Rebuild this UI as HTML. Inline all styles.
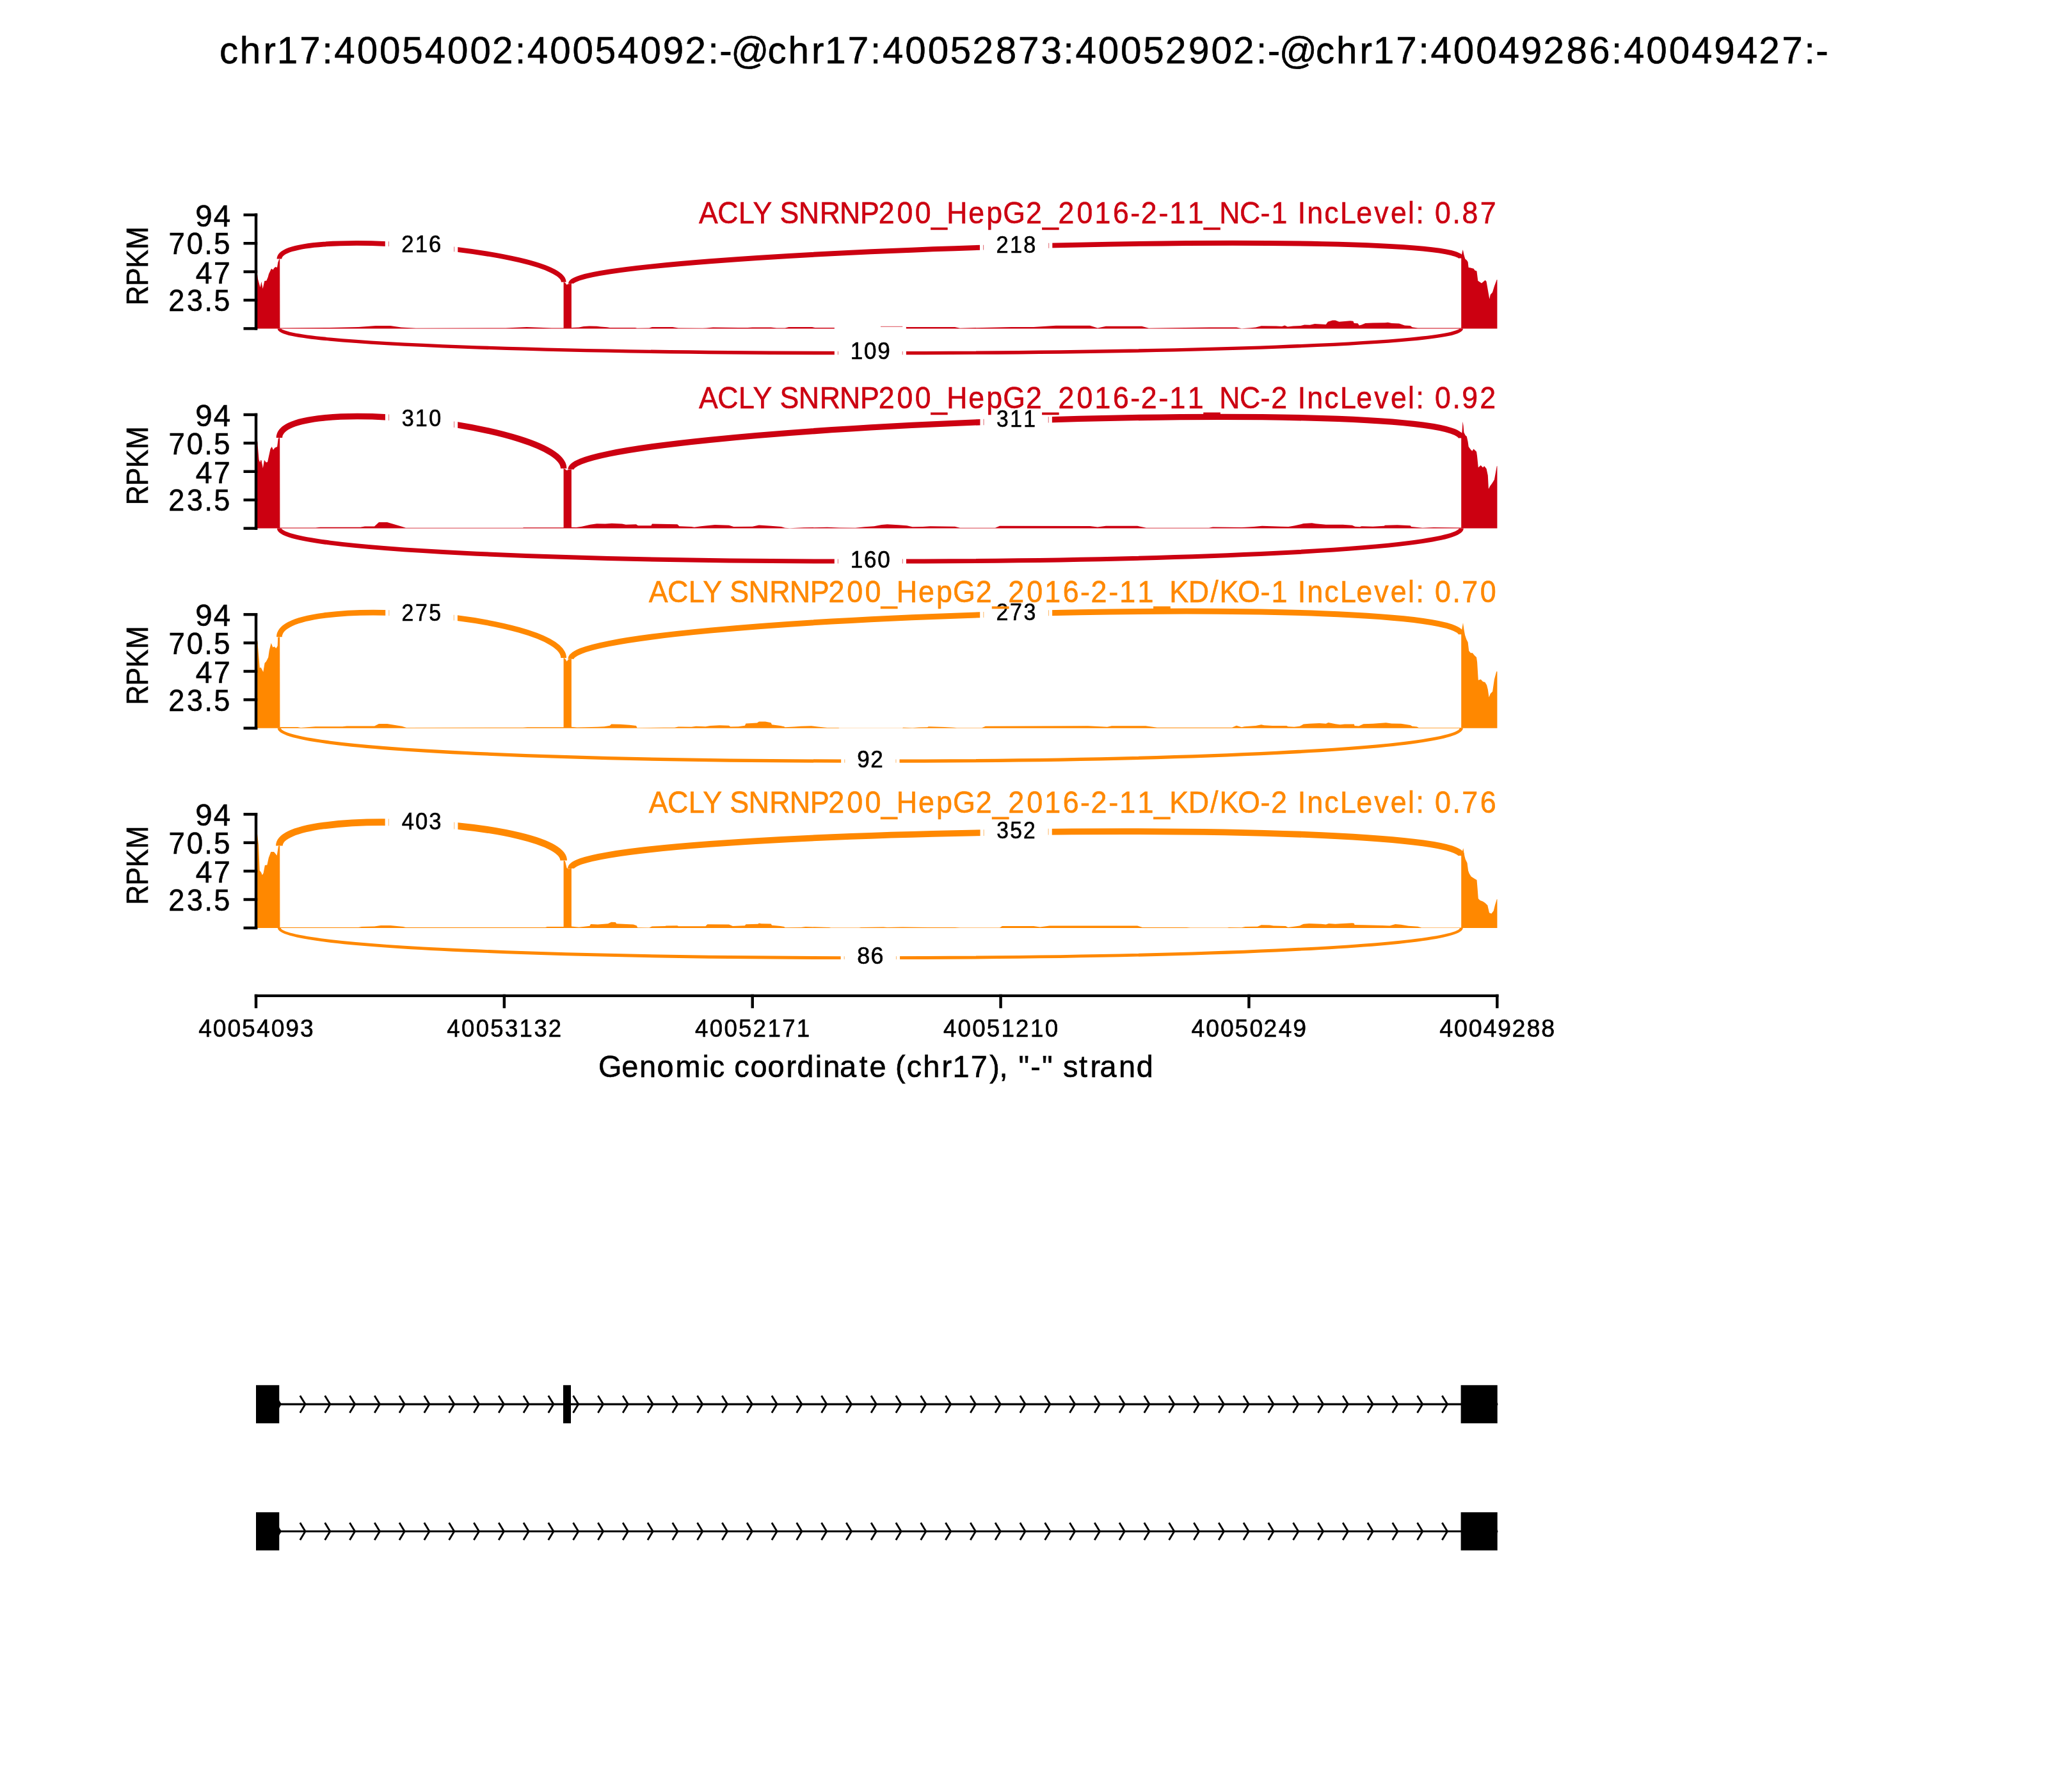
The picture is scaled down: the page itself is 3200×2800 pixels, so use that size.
<!DOCTYPE html>
<html><head><meta charset="utf-8"><style>
html,body{margin:0;padding:0;background:#fff;}
svg{display:block;will-change:transform;font-family:"Liberation Sans",sans-serif;}
</style></head><body>
<svg width="3200" height="2800" viewBox="0 0 3200 2800">
<rect width="3200" height="2800" fill="#fff"/>
<text transform="scale(0.97096,1)" x="353.19 386.08 423.74 445.58 482.18 518.52 537.97 574.38 610.78 646.96 683.58 719.99 756.39 792.04 829.02 848.47 884.88 921.29 957.47 994.09 1030.50 1066.72 1102.55 1139.53 1157.82 1176.40 1235.40 1268.29 1305.95 1327.79 1364.39 1400.72 1420.17 1456.58 1492.99 1529.17 1565.04 1602.20 1638.49 1675.08 1711.23 1730.68 1767.09 1803.49 1839.68 1875.55 1912.52 1949.11 1984.76 2021.73 2040.03 2058.60 2117.60 2150.49 2188.15 2210.00 2246.59 2282.93 2302.38 2338.79 2375.19 2411.59 2447.82 2483.65 2520.81 2557.22 2593.44 2612.89 2649.30 2685.70 2722.10 2758.33 2794.91 2830.56 2867.60 2903.94 2922.23" y="98.60" font-size="60.04" fill="#000" stroke="#000" stroke-width="0.6">chr17:40054002:40054092:-@chr17:40052873:40052902:-@chr17:40049286:40049427:-</text>
<g font-family="Liberation Sans, sans-serif">
<polygon points="400.00,513.40 400.00,424.00 401.50,424.00 403.00,436.00 406.60,449.00 408.40,440.00 410.60,451.00 413.30,439.00 416.40,438.60 418.70,433.00 420.00,427.90 424.00,419.80 426.70,421.60 428.50,418.50 430.70,417.00 433.00,418.00 434.30,410.00 436.00,405.50 437.20,404.60 437.40,512.40 515.00,511.90 560.00,510.90 587.00,508.90 610.00,508.90 627.00,511.40 650.00,512.70 790.00,512.40 823.00,511.10 862.00,512.40 880.60,512.40 880.60,440.70 883.00,441.70 885.60,445.00 888.00,443.60 892.90,443.10 892.90,512.10 904.60,511.40 912.00,509.90 920.80,509.40 932.50,509.70 938.30,510.50 948.60,511.20 953.00,512.10 992.50,512.10 995.50,512.70 1014.50,512.40 1018.90,510.90 1051.00,510.90 1059.90,512.40 1098.00,512.70 1103.90,512.40 1114.10,511.60 1153.70,512.10 1168.30,512.10 1175.60,511.40 1190.00,511.60 1204.60,511.60 1213.40,512.40 1226.60,512.40 1232.50,510.90 1269.10,510.90 1273.50,512.10 1302.80,512.10 1375.00,511.90 1380.00,510.40 1408.00,510.40 1412.00,509.90 1417.00,510.90 1453.70,510.90 1490.00,510.90 1492.00,510.90 1500.00,512.70 1580.00,510.90 1615.00,510.90 1650.00,508.80 1703.00,508.80 1715.00,512.40 1728.00,509.70 1784.00,509.70 1795.00,512.70 1890.00,511.60 1932.00,511.60 1940.00,513.20 1954.60,512.20 1962.00,511.50 1970.80,509.30 1994.20,509.60 2003.00,510.00 2007.40,508.60 2011.80,510.50 2020.60,509.60 2032.30,509.00 2038.10,507.50 2046.90,507.80 2054.30,505.90 2071.80,507.10 2074.80,502.70 2082.10,500.50 2086.50,500.50 2092.30,502.70 2098.20,502.30 2109.90,501.20 2114.30,501.70 2115.80,504.90 2121.60,505.20 2123.80,508.60 2127.50,507.50 2133.40,504.90 2145.10,504.50 2164.10,504.20 2168.50,503.70 2174.40,504.90 2186.10,505.60 2194.90,508.60 2203.70,509.00 2206.60,511.20 2215.40,512.50 2283.20,512.50 2283.20,403.60 2284.60,394.20 2285.80,389.90 2287.40,398.00 2289.30,404.60 2291.70,406.50 2293.60,409.30 2294.60,417.90 2296.90,418.30 2302.60,419.80 2304.50,422.60 2307.40,423.60 2309.30,438.70 2315.00,442.50 2320.60,437.80 2322.50,439.70 2327.30,467.20 2328.70,460.60 2332.00,456.80 2334.90,447.30 2338.70,436.90 2339.40,436.90 2339.40,513.40" fill="#CC0011"/>
<path d="M436.40,404.60 C436.40,353.60 880.70,389.70 880.70,440.70" fill="none" stroke="#CC0011" stroke-width="7.7" stroke-linecap="butt"/>
<path d="M892.00,443.10 C892.00,392.10 2283.30,352.60 2283.30,403.60" fill="none" stroke="#CC0011" stroke-width="7.9" stroke-linecap="butt"/>
<path d="M436.40,513.40 C436.40,564.40 2283.30,564.40 2283.30,513.40" fill="none" stroke="#CC0011" stroke-width="5.4" stroke-linecap="butt"/>
<line x1="400.0" y1="333.60" x2="400.0" y2="515.60" stroke="#000" stroke-width="4.44"/>
<line x1="380.5" y1="335.80" x2="402.2" y2="335.80" stroke="#000" stroke-width="4.44"/>
<text transform="scale(0.99074,1)" x="308.15 336.83" y="353.70" font-size="48.03" fill="#000" stroke="#000" stroke-width="0.6">94</text>
<line x1="380.5" y1="380.20" x2="402.2" y2="380.20" stroke="#000" stroke-width="4.44"/>
<text transform="scale(0.95323,1)" x="276.38 306.13 335.05 350.44" y="397.40" font-size="48.03" fill="#000" stroke="#000" stroke-width="0.6">70.5</text>
<line x1="380.5" y1="424.60" x2="402.2" y2="424.60" stroke="#000" stroke-width="4.44"/>
<text transform="scale(0.96532,1)" x="316.76 345.97" y="442.60" font-size="48.03" fill="#000" stroke="#000" stroke-width="0.6">47</text>
<line x1="380.5" y1="469.00" x2="402.2" y2="469.00" stroke="#000" stroke-width="4.44"/>
<text transform="scale(0.93671,1)" x="280.96 311.83 341.08 356.85" y="486.30" font-size="48.03" fill="#000" stroke="#000" stroke-width="0.6">23.5</text>
<line x1="380.5" y1="513.40" x2="402.2" y2="513.40" stroke="#000" stroke-width="4.44"/>
<text transform="translate(230.80,415.30) rotate(-90) scale(0.89226,1)" x="-69.31 -35.65 -3.92 28.66" y="0.00" font-size="48.03" fill="#000" stroke="#000" stroke-width="0.6">RPKM</text>
<rect x="601.81" y="337.80" width="113.48" height="93.20" fill="#fff"/>
<line x1="607.41" y1="377.31" x2="607.41" y2="385.02" stroke="#CC0011" stroke-width="1.1" stroke-opacity="0.55"/>
<line x1="709.69" y1="385.59" x2="709.69" y2="393.34" stroke="#CC0011" stroke-width="1.1" stroke-opacity="0.55"/>
<text transform="scale(0.96111,1)" x="652.65 674.99 697.24" y="394.20" font-size="36.03" fill="#000" stroke="#000" stroke-width="0.6">216</text>
<rect x="1531.00" y="338.50" width="113.30" height="93.20" fill="#fff"/>
<line x1="1536.60" y1="382.69" x2="1536.60" y2="390.59" stroke="#CC0011" stroke-width="1.1" stroke-opacity="0.55"/>
<line x1="1638.70" y1="379.79" x2="1638.70" y2="387.69" stroke="#CC0011" stroke-width="1.1" stroke-opacity="0.55"/>
<text transform="scale(0.95324,1)" x="1632.79 1655.33 1677.75" y="394.90" font-size="36.03" fill="#000" stroke="#000" stroke-width="0.6">218</text>
<rect x="1303.84" y="505.05" width="112.02" height="93.20" fill="#fff"/>
<line x1="1309.44" y1="548.90" x2="1309.44" y2="554.30" stroke="#CC0011" stroke-width="1.1" stroke-opacity="0.55"/>
<line x1="1410.26" y1="548.90" x2="1410.26" y2="554.30" stroke="#CC0011" stroke-width="1.1" stroke-opacity="0.55"/>
<line x1="1376" y1="510.4" x2="1410.26" y2="510.4" stroke="#CC0011" stroke-width="1.1" stroke-opacity="0.55"/>
<text transform="scale(0.97237,1)" x="1366.47 1388.46 1410.16" y="561.45" font-size="36.03" fill="#000" stroke="#000" stroke-width="0.6">109</text>
<text transform="scale(0.92925,1)" x="1175.10 1206.59 1241.90 1266.12 1266.12 1311.37 1342.84 1378.16 1411.85 1446.33 1477.16 1508.22 1538.65 1565.92 1591.77 1628.56 1658.68 1686.71 1725.17 1753.08 1779.51 1810.57 1840.78 1871.44 1900.65 1918.49 1948.34 1966.58 1997.01 2024.52 2050.27 2084.61 2119.54 2137.79 2137.79 2182.18 2197.81 2226.81 2253.53 2280.61 2310.73 2338.34 2367.62 2381.00 2381.00 2412.77 2442.26 2458.40 2488.74" y="348.80" font-size="48.03" fill="#CC0011" stroke="#CC0011" stroke-width="0.6">ACLY SNRNP200_HepG2_2016-2-11_NC-1 IncLevel: 0.87</text>
<polygon points="400.00,825.57 400.00,686.90 401.90,686.90 404.60,718.20 406.30,722.60 407.40,718.70 408.50,719.30 410.80,731.60 413.00,718.70 415.80,722.60 418.00,722.00 422.50,701.40 424.70,698.10 427.00,703.10 429.20,699.80 433.10,698.10 434.80,684.70 437.20,684.10 437.40,824.57 493.00,824.57 500.00,823.77 563.00,823.77 570.00,822.57 585.00,822.57 592.00,816.07 605.00,816.07 627.00,822.57 634.00,824.77 817.00,824.77 818.00,824.17 880.60,824.17 880.60,732.00 883.00,733.00 885.60,735.00 888.00,734.10 892.90,733.60 892.90,823.77 900.30,824.07 909.00,822.67 922.20,819.67 932.50,818.27 945.70,818.57 955.90,817.77 972.00,818.57 977.90,819.67 994.00,819.37 996.90,821.17 1017.40,821.17 1018.90,818.57 1058.40,819.37 1061.40,822.37 1080.40,822.97 1084.80,823.77 1095.10,822.37 1117.00,819.97 1139.00,820.87 1146.30,822.97 1175.60,822.67 1185.90,820.47 1190.00,820.87 1204.60,821.87 1220.80,822.97 1226.60,824.87 1233.90,825.27 1255.90,824.37 1292.50,823.77 1311.60,824.57 1336.50,824.87 1351.10,823.37 1365.80,822.37 1377.50,819.97 1386.30,819.17 1403.90,820.17 1417.00,821.17 1425.80,823.37 1441.90,822.97 1453.70,822.37 1490.00,822.67 1492.00,822.77 1500.00,824.77 1555.00,824.77 1562.00,821.67 1703.00,822.07 1715.00,823.57 1728.00,821.67 1777.00,821.67 1791.00,824.77 1889.00,824.77 1895.00,823.57 1940.00,824.07 1945.90,823.77 1959.00,823.07 1972.20,821.87 1986.90,822.17 2001.50,822.67 2013.20,822.97 2022.00,821.57 2032.30,819.37 2036.70,817.97 2049.90,817.27 2055.70,818.27 2071.80,819.67 2098.20,819.67 2112.80,820.77 2117.20,822.67 2124.60,823.37 2127.50,822.37 2145.10,822.67 2162.60,821.87 2164.10,820.77 2183.20,820.17 2203.70,821.17 2205.10,822.97 2222.70,824.87 2240.00,824.07 2283.20,824.57 2283.20,684.60 2284.60,673.50 2285.50,658.40 2286.50,665.00 2287.40,675.70 2289.70,680.20 2291.80,682.00 2293.60,690.20 2294.70,698.00 2298.00,702.50 2300.30,704.70 2302.50,701.40 2307.00,705.80 2308.00,712.50 2309.80,730.40 2313.70,727.00 2317.00,730.40 2319.20,728.20 2322.60,732.60 2324.80,742.70 2325.90,763.90 2328.20,759.40 2331.50,755.00 2334.90,749.40 2338.80,728.20 2339.40,728.20 2339.40,825.57" fill="#CC0011"/>
<path d="M436.40,684.10 C436.40,615.40 880.70,663.30 880.70,732.00" fill="none" stroke="#CC0011" stroke-width="9.5" stroke-linecap="butt"/>
<path d="M892.00,733.60 C892.00,664.90 2283.30,615.90 2283.30,684.60" fill="none" stroke="#CC0011" stroke-width="9.3" stroke-linecap="butt"/>
<path d="M436.40,825.57 C436.40,894.27 2283.30,894.27 2283.30,825.57" fill="none" stroke="#CC0011" stroke-width="7.0" stroke-linecap="butt"/>
<line x1="400.0" y1="645.77" x2="400.0" y2="827.77" stroke="#000" stroke-width="4.44"/>
<line x1="380.5" y1="647.97" x2="402.2" y2="647.97" stroke="#000" stroke-width="4.44"/>
<text transform="scale(0.99074,1)" x="308.15 336.83" y="665.87" font-size="48.03" fill="#000" stroke="#000" stroke-width="0.6">94</text>
<line x1="380.5" y1="692.37" x2="402.2" y2="692.37" stroke="#000" stroke-width="4.44"/>
<text transform="scale(0.95323,1)" x="276.38 306.13 335.05 350.44" y="709.57" font-size="48.03" fill="#000" stroke="#000" stroke-width="0.6">70.5</text>
<line x1="380.5" y1="736.77" x2="402.2" y2="736.77" stroke="#000" stroke-width="4.44"/>
<text transform="scale(0.96532,1)" x="316.76 345.97" y="754.77" font-size="48.03" fill="#000" stroke="#000" stroke-width="0.6">47</text>
<line x1="380.5" y1="781.17" x2="402.2" y2="781.17" stroke="#000" stroke-width="4.44"/>
<text transform="scale(0.93671,1)" x="280.96 311.83 341.08 356.85" y="798.47" font-size="48.03" fill="#000" stroke="#000" stroke-width="0.6">23.5</text>
<line x1="380.5" y1="825.57" x2="402.2" y2="825.57" stroke="#000" stroke-width="4.44"/>
<text transform="translate(230.80,727.47) rotate(-90) scale(0.89226,1)" x="-69.31 -35.65 -3.92 28.66" y="0.00" font-size="48.03" fill="#000" stroke="#000" stroke-width="0.6">RPKM</text>
<rect x="601.92" y="609.92" width="113.27" height="93.20" fill="#fff"/>
<line x1="607.52" y1="647.49" x2="607.52" y2="657.01" stroke="#CC0011" stroke-width="1.1" stroke-opacity="0.55"/>
<line x1="709.58" y1="658.45" x2="709.58" y2="668.07" stroke="#CC0011" stroke-width="1.1" stroke-opacity="0.55"/>
<text transform="scale(0.94844,1)" x="662.01 684.15 706.68" y="666.32" font-size="36.03" fill="#000" stroke="#000" stroke-width="0.6">310</text>
<rect x="1531.45" y="610.98" width="112.41" height="93.20" fill="#fff"/>
<line x1="1537.05" y1="654.82" x2="1537.05" y2="664.13" stroke="#CC0011" stroke-width="1.1" stroke-opacity="0.55"/>
<line x1="1638.25" y1="651.26" x2="1638.25" y2="660.57" stroke="#CC0011" stroke-width="1.1" stroke-opacity="0.55"/>
<text transform="scale(0.93337,1)" x="1668.29 1690.80 1713.52" y="667.38" font-size="36.03" fill="#000" stroke="#000" stroke-width="0.6">311</text>
<rect x="1303.78" y="830.50" width="112.15" height="93.20" fill="#fff"/>
<line x1="1309.38" y1="873.53" x2="1309.38" y2="880.53" stroke="#CC0011" stroke-width="1.1" stroke-opacity="0.55"/>
<line x1="1410.32" y1="873.53" x2="1410.32" y2="880.53" stroke="#CC0011" stroke-width="1.1" stroke-opacity="0.55"/>
<text transform="scale(0.97305,1)" x="1365.51 1387.49 1409.28" y="886.89" font-size="36.03" fill="#000" stroke="#000" stroke-width="0.6">160</text>
<text transform="scale(0.92959,1)" x="1174.66 1206.14 1241.44 1265.65 1265.65 1310.88 1342.34 1377.65 1411.33 1445.79 1476.61 1507.66 1538.08 1565.34 1591.18 1627.95 1658.07 1686.08 1724.53 1752.43 1778.85 1809.90 1840.10 1870.75 1899.95 1917.78 1947.62 1965.86 1996.27 2023.77 2049.51 2083.84 2118.76 2136.59 2136.59 2181.38 2197.00 2225.98 2252.69 2279.77 2309.88 2337.48 2366.75 2380.12 2380.12 2411.88 2441.36 2457.34 2487.28" y="637.70" font-size="48.03" fill="#CC0011" stroke="#CC0011" stroke-width="0.6">ACLY SNRNP200_HepG2_2016-2-11_NC-2 IncLevel: 0.92</text>
<polygon points="400.00,1137.74 400.00,1000.80 402.20,1000.80 405.80,1043.80 407.40,1042.70 409.10,1045.50 411.30,1049.90 413.60,1036.00 415.80,1033.80 417.50,1030.40 419.20,1027.00 420.80,1015.90 423.60,1004.70 426.40,1011.40 428.60,1010.30 431.40,1013.10 433.70,1009.20 434.20,995.80 437.20,995.20 437.40,1135.94 465.00,1135.94 470.00,1136.94 493.00,1135.24 535.00,1135.24 542.00,1134.54 585.00,1134.54 592.00,1131.04 605.00,1131.04 628.00,1134.74 635.00,1136.94 817.00,1136.74 824.00,1136.34 880.60,1136.34 880.60,1028.10 883.00,1029.10 885.60,1033.60 888.00,1030.20 892.90,1029.70 892.90,1135.84 901.70,1136.54 914.90,1136.14 933.90,1135.84 944.20,1135.14 953.00,1133.64 955.20,1131.44 969.10,1131.74 983.70,1132.64 994.00,1134.04 995.50,1137.34 1036.50,1136.84 1054.00,1136.84 1059.90,1135.44 1080.40,1135.84 1087.70,1134.84 1102.40,1135.14 1109.70,1134.04 1124.40,1133.34 1139.00,1133.64 1141.20,1135.44 1153.70,1135.14 1163.90,1133.64 1165.40,1130.44 1183.00,1129.54 1185.90,1127.44 1195.90,1127.44 1204.60,1129.24 1206.10,1132.34 1219.30,1134.04 1225.20,1135.14 1226.60,1136.24 1241.30,1135.54 1251.50,1134.84 1267.60,1134.34 1277.90,1135.54 1292.50,1137.04 1310.10,1137.04 1311.60,1137.54 1410.00,1137.54 1411.20,1136.74 1425.80,1137.34 1436.10,1136.54 1449.30,1136.24 1450.70,1135.14 1475.60,1135.94 1490.00,1136.74 1495.00,1137.24 1534.00,1137.24 1540.00,1134.74 1700.00,1134.24 1730.00,1135.74 1737.00,1134.24 1790.00,1134.24 1808.00,1136.74 1925.00,1136.74 1932.00,1133.74 1940.00,1136.24 1944.40,1135.24 1962.00,1134.04 1970.80,1132.14 1975.20,1133.34 1988.30,1134.04 2010.30,1134.04 2012.50,1135.14 2022.00,1135.84 2030.80,1134.84 2036.70,1131.54 2045.50,1130.74 2061.60,1129.94 2071.80,1130.84 2075.50,1128.94 2086.50,1131.14 2093.80,1132.34 2101.10,1131.54 2115.80,1131.54 2116.50,1134.04 2123.10,1134.54 2130.40,1131.14 2145.10,1130.84 2165.60,1129.24 2174.40,1130.44 2189.00,1130.84 2203.70,1133.04 2206.60,1134.84 2213.90,1135.54 2216.80,1137.04 2283.20,1137.04 2283.20,991.30 2284.60,981.30 2286.00,972.90 2287.40,983.50 2289.10,992.40 2291.30,999.10 2293.60,1003.60 2295.20,1017.00 2298.00,1020.30 2300.80,1020.30 2303.60,1023.70 2307.00,1027.00 2308.10,1034.80 2309.80,1062.70 2313.70,1061.60 2317.00,1065.00 2320.40,1066.10 2323.10,1070.50 2324.80,1077.20 2326.50,1089.50 2328.70,1083.90 2332.10,1080.60 2334.90,1061.60 2338.20,1049.30 2339.40,1049.30 2339.40,1137.74" fill="#FF8800"/>
<path d="M436.40,995.20 C436.40,926.60 880.70,959.50 880.70,1028.10" fill="none" stroke="#FF8800" stroke-width="8.7" stroke-linecap="butt"/>
<path d="M892.00,1029.70 C892.00,961.10 2283.30,922.70 2283.30,991.30" fill="none" stroke="#FF8800" stroke-width="9.0" stroke-linecap="butt"/>
<path d="M436.40,1137.74 C436.40,1206.34 2283.30,1206.34 2283.30,1137.74" fill="none" stroke="#FF8800" stroke-width="5.25" stroke-linecap="butt"/>
<line x1="400.0" y1="957.94" x2="400.0" y2="1139.94" stroke="#000" stroke-width="4.44"/>
<line x1="380.5" y1="960.14" x2="402.2" y2="960.14" stroke="#000" stroke-width="4.44"/>
<text transform="scale(0.99074,1)" x="308.15 336.83" y="978.04" font-size="48.03" fill="#000" stroke="#000" stroke-width="0.6">94</text>
<line x1="380.5" y1="1004.54" x2="402.2" y2="1004.54" stroke="#000" stroke-width="4.44"/>
<text transform="scale(0.95323,1)" x="276.38 306.13 335.05 350.44" y="1021.74" font-size="48.03" fill="#000" stroke="#000" stroke-width="0.6">70.5</text>
<line x1="380.5" y1="1048.94" x2="402.2" y2="1048.94" stroke="#000" stroke-width="4.44"/>
<text transform="scale(0.96532,1)" x="316.76 345.97" y="1066.94" font-size="48.03" fill="#000" stroke="#000" stroke-width="0.6">47</text>
<line x1="380.5" y1="1093.34" x2="402.2" y2="1093.34" stroke="#000" stroke-width="4.44"/>
<text transform="scale(0.93671,1)" x="280.96 311.83 341.08 356.85" y="1110.64" font-size="48.03" fill="#000" stroke="#000" stroke-width="0.6">23.5</text>
<line x1="380.5" y1="1137.74" x2="402.2" y2="1137.74" stroke="#000" stroke-width="4.44"/>
<text transform="translate(230.80,1039.64) rotate(-90) scale(0.89226,1)" x="-69.31 -35.65 -3.92 28.66" y="0.00" font-size="48.03" fill="#000" stroke="#000" stroke-width="0.6">RPKM</text>
<rect x="602.22" y="913.60" width="112.67" height="93.20" fill="#fff"/>
<line x1="607.82" y1="953.30" x2="607.82" y2="962.01" stroke="#FF8800" stroke-width="1.1" stroke-opacity="0.55"/>
<line x1="709.28" y1="960.79" x2="709.28" y2="969.55" stroke="#FF8800" stroke-width="1.1" stroke-opacity="0.55"/>
<text transform="scale(0.93798,1)" x="668.99 692.00 714.54" y="970.00" font-size="36.03" fill="#000" stroke="#000" stroke-width="0.6">275</text>
<rect x="1531.19" y="912.45" width="112.91" height="93.20" fill="#fff"/>
<line x1="1536.79" y1="956.08" x2="1536.79" y2="965.09" stroke="#FF8800" stroke-width="1.1" stroke-opacity="0.55"/>
<line x1="1638.51" y1="953.26" x2="1638.51" y2="962.26" stroke="#FF8800" stroke-width="1.1" stroke-opacity="0.55"/>
<text transform="scale(0.94353,1)" x="1649.70 1672.57 1695.17" y="968.85" font-size="36.03" fill="#000" stroke="#000" stroke-width="0.6">273</text>
<rect x="1314.16" y="1142.59" width="91.38" height="93.20" fill="#fff"/>
<line x1="1319.76" y1="1186.52" x2="1319.76" y2="1191.77" stroke="#FF8800" stroke-width="1.1" stroke-opacity="0.55"/>
<line x1="1399.94" y1="1186.52" x2="1399.94" y2="1191.77" stroke="#FF8800" stroke-width="1.1" stroke-opacity="0.55"/>
<text transform="scale(0.97400,1)" x="1375.12 1396.56" y="1198.99" font-size="36.03" fill="#000" stroke="#000" stroke-width="0.6">92</text>
<text transform="scale(0.93429,1)" x="1084.98 1116.29 1151.43 1175.51 1175.51 1220.52 1251.81 1286.94 1320.45 1354.74 1385.42 1416.31 1446.58 1473.71 1499.39 1536.00 1565.96 1593.82 1632.10 1659.85 1686.15 1717.04 1747.08 1777.58 1806.65 1824.37 1854.08 1872.20 1902.47 1929.82 1955.69 1987.25 2024.15 2039.54 2070.08 2108.05 2126.17 2126.17 2170.36 2185.87 2214.72 2241.28 2268.22 2298.19 2325.64 2354.81 2368.11 2368.11 2399.67 2429.03 2444.96 2475.32" y="941.40" font-size="48.03" fill="#FF8800" stroke="#FF8800" stroke-width="0.6">ACLY SNRNP200_HepG2_2016-2-11_KD/KO-1 IncLevel: 0.70</text>
<polygon points="400.00,1449.91 400.00,1299.20 401.60,1299.20 404.00,1320.30 405.70,1360.20 408.00,1363.00 409.80,1367.20 411.60,1364.30 413.90,1352.00 417.40,1351.40 419.80,1340.30 423.30,1330.90 428.00,1330.90 432.70,1336.80 435.00,1322.10 437.20,1321.50 437.40,1449.11 560.00,1449.11 565.00,1447.91 585.00,1447.41 595.00,1446.01 610.00,1446.01 630.00,1447.91 634.00,1449.11 852.00,1449.11 855.00,1448.11 880.60,1448.11 880.60,1344.60 883.00,1345.60 885.60,1356.30 888.00,1357.60 892.90,1357.10 892.90,1447.41 904.60,1448.71 913.40,1447.71 921.50,1446.71 923.00,1444.01 934.00,1444.51 950.00,1443.31 955.20,1440.81 961.80,1441.11 963.20,1443.31 989.60,1444.51 994.70,1446.21 996.20,1449.21 1014.50,1449.61 1018.90,1447.41 1039.40,1447.01 1040.90,1446.51 1058.40,1446.21 1059.90,1447.31 1102.40,1447.31 1105.30,1444.31 1139.00,1444.51 1144.90,1447.01 1163.90,1446.21 1165.40,1444.31 1184.40,1443.71 1185.90,1442.61 1190.00,1443.31 1204.60,1443.61 1206.10,1445.81 1219.30,1447.01 1225.20,1448.11 1226.60,1449.21 1251.50,1448.91 1258.80,1448.11 1295.50,1448.91 1298.40,1449.61 1342.30,1449.61 1345.30,1448.91 1380.40,1448.41 1386.30,1448.91 1409.70,1448.41 1450.70,1448.91 1490.00,1448.91 1492.00,1448.91 1500.00,1449.41 1562.00,1449.41 1566.00,1447.11 1615.00,1447.11 1625.00,1448.41 1640.00,1446.41 1777.00,1446.41 1785.00,1448.91 1854.00,1448.91 1860.00,1449.41 1918.00,1449.41 1920.00,1448.91 1940.00,1449.31 1945.90,1448.11 1964.90,1447.81 1970.80,1445.21 1983.90,1445.51 1989.80,1446.41 2008.80,1447.01 2012.50,1448.91 2022.00,1447.81 2030.80,1446.41 2036.70,1443.71 2045.50,1443.01 2064.50,1443.71 2071.80,1444.51 2076.20,1443.01 2086.50,1443.71 2093.80,1443.31 2112.80,1442.31 2115.80,1442.71 2116.50,1444.91 2130.40,1445.21 2159.70,1445.91 2171.40,1446.41 2180.20,1444.01 2189.00,1444.81 2200.70,1446.71 2215.40,1447.71 2221.20,1449.61 2283.20,1449.61 2283.20,1337.00 2284.60,1331.40 2286.30,1325.30 2288.00,1335.90 2289.70,1342.60 2292.50,1348.20 2294.10,1360.40 2295.80,1364.90 2298.60,1369.40 2303.60,1372.70 2307.50,1375.00 2308.60,1388.30 2309.80,1404.00 2312.50,1406.80 2317.00,1408.50 2320.40,1410.70 2324.30,1414.60 2327.00,1426.30 2330.40,1427.40 2333.80,1423.00 2336.00,1414.00 2338.80,1405.10 2339.40,1405.10 2339.40,1449.91" fill="#FF8800"/>
<path d="M436.40,1321.50 C436.40,1259.20 880.70,1282.30 880.70,1344.60" fill="none" stroke="#FF8800" stroke-width="10.7" stroke-linecap="butt"/>
<path d="M892.00,1357.10 C892.00,1294.80 2283.30,1274.70 2283.30,1337.00" fill="none" stroke="#FF8800" stroke-width="9.8" stroke-linecap="butt"/>
<path d="M436.40,1449.91 C436.40,1512.21 2283.30,1512.21 2283.30,1449.91" fill="none" stroke="#FF8800" stroke-width="4.9" stroke-linecap="butt"/>
<line x1="400.0" y1="1270.11" x2="400.0" y2="1452.11" stroke="#000" stroke-width="4.44"/>
<line x1="380.5" y1="1272.31" x2="402.2" y2="1272.31" stroke="#000" stroke-width="4.44"/>
<text transform="scale(0.99074,1)" x="308.15 336.83" y="1290.21" font-size="48.03" fill="#000" stroke="#000" stroke-width="0.6">94</text>
<line x1="380.5" y1="1316.71" x2="402.2" y2="1316.71" stroke="#000" stroke-width="4.44"/>
<text transform="scale(0.95323,1)" x="276.38 306.13 335.05 350.44" y="1333.91" font-size="48.03" fill="#000" stroke="#000" stroke-width="0.6">70.5</text>
<line x1="380.5" y1="1361.11" x2="402.2" y2="1361.11" stroke="#000" stroke-width="4.44"/>
<text transform="scale(0.96532,1)" x="316.76 345.97" y="1379.11" font-size="48.03" fill="#000" stroke="#000" stroke-width="0.6">47</text>
<line x1="380.5" y1="1405.51" x2="402.2" y2="1405.51" stroke="#000" stroke-width="4.44"/>
<text transform="scale(0.93671,1)" x="280.96 311.83 341.08 356.85" y="1422.81" font-size="48.03" fill="#000" stroke="#000" stroke-width="0.6">23.5</text>
<line x1="380.5" y1="1449.91" x2="402.2" y2="1449.91" stroke="#000" stroke-width="4.44"/>
<text transform="translate(230.80,1351.81) rotate(-90) scale(0.89226,1)" x="-69.31 -35.65 -3.92 28.66" y="0.00" font-size="48.03" fill="#000" stroke="#000" stroke-width="0.6">RPKM</text>
<rect x="601.69" y="1239.73" width="113.73" height="93.20" fill="#fff"/>
<line x1="607.29" y1="1279.43" x2="607.29" y2="1290.13" stroke="#FF8800" stroke-width="1.1" stroke-opacity="0.55"/>
<line x1="709.81" y1="1284.74" x2="709.81" y2="1295.49" stroke="#FF8800" stroke-width="1.1" stroke-opacity="0.55"/>
<text transform="scale(0.96280,1)" x="651.94 673.97 696.04" y="1296.12" font-size="36.03" fill="#000" stroke="#000" stroke-width="0.6">403</text>
<rect x="1531.58" y="1253.73" width="112.15" height="93.20" fill="#fff"/>
<line x1="1537.18" y1="1296.26" x2="1537.18" y2="1306.07" stroke="#FF8800" stroke-width="1.1" stroke-opacity="0.55"/>
<line x1="1638.12" y1="1294.80" x2="1638.12" y2="1304.60" stroke="#FF8800" stroke-width="1.1" stroke-opacity="0.55"/>
<text transform="scale(0.93233,1)" x="1670.15 1692.71 1715.13" y="1310.12" font-size="36.03" fill="#000" stroke="#000" stroke-width="0.6">352</text>
<rect x="1313.62" y="1450.03" width="92.45" height="93.20" fill="#fff"/>
<line x1="1319.22" y1="1494.14" x2="1319.22" y2="1499.04" stroke="#FF8800" stroke-width="1.1" stroke-opacity="0.55"/>
<line x1="1400.48" y1="1494.14" x2="1400.48" y2="1499.04" stroke="#FF8800" stroke-width="1.1" stroke-opacity="0.55"/>
<text transform="scale(0.99758,1)" x="1342.49 1363.75" y="1506.43" font-size="36.03" fill="#000" stroke="#000" stroke-width="0.6">86</text>
<text transform="scale(0.93513,1)" x="1083.99 1115.27 1150.38 1174.44 1174.44 1219.40 1250.67 1285.76 1319.24 1353.50 1384.16 1415.03 1445.26 1472.37 1498.03 1534.61 1564.54 1592.37 1630.61 1658.35 1684.62 1715.48 1745.49 1775.97 1805.02 1822.72 1852.41 1870.50 1900.74 1928.08 1953.92 1985.45 2022.32 2037.69 2068.20 2106.15 2123.84 2123.84 2168.40 2183.89 2212.71 2239.25 2266.17 2296.11 2323.54 2352.69 2365.97 2365.97 2397.50 2426.84 2442.75 2473.09" y="1269.60" font-size="48.03" fill="#FF8800" stroke="#FF8800" stroke-width="0.6">ACLY SNRNP200_HepG2_2016-2-11_KD/KO-2 IncLevel: 0.76</text>
<line x1="397.8" y1="1555.9" x2="2341.5" y2="1555.9" stroke="#000" stroke-width="4.44"/>
<line x1="400.00" y1="1553.7" x2="400.00" y2="1575.3" stroke="#000" stroke-width="4.44"/>
<text transform="scale(0.96771,1)" x="320.53 343.99 367.44 390.75 414.34 437.79 461.13 484.75" y="1620.40" font-size="38.55" fill="#000" stroke="#000" stroke-width="0.6">40054093</text>
<line x1="787.86" y1="1553.7" x2="787.86" y2="1575.3" stroke="#000" stroke-width="4.44"/>
<text transform="scale(0.94947,1)" x="735.40 759.31 783.21 806.97 831.06 854.73 878.87 902.23" y="1620.40" font-size="38.55" fill="#000" stroke="#000" stroke-width="0.6">40053132</text>
<line x1="1175.72" y1="1553.7" x2="1175.72" y2="1575.3" stroke="#000" stroke-width="4.44"/>
<text transform="scale(0.95122,1)" x="1141.78 1165.64 1189.50 1213.21 1236.72 1260.89 1284.86 1308.60" y="1620.40" font-size="38.55" fill="#000" stroke="#000" stroke-width="0.6">40052171</text>
<line x1="1563.58" y1="1553.7" x2="1563.58" y2="1575.3" stroke="#000" stroke-width="4.44"/>
<text transform="scale(0.95396,1)" x="1545.04 1568.84 1592.63 1616.27 1640.02 1663.50 1687.60 1711.58" y="1620.40" font-size="38.55" fill="#000" stroke="#000" stroke-width="0.6">40051210</text>
<line x1="1951.44" y1="1553.7" x2="1951.44" y2="1575.3" stroke="#000" stroke-width="4.44"/>
<text transform="scale(0.96827,1)" x="1922.62 1946.07 1969.50 1992.80 2016.38 2039.33 2063.25 2086.58" y="1620.40" font-size="38.55" fill="#000" stroke="#000" stroke-width="0.6">40050249</text>
<line x1="2339.30" y1="1553.7" x2="2339.30" y2="1575.3" stroke="#000" stroke-width="4.44"/>
<text transform="scale(0.97765,1)" x="2300.80 2324.02 2347.23 2370.44 2393.54 2416.39 2440.09 2463.30" y="1620.40" font-size="38.55" fill="#000" stroke="#000" stroke-width="0.6">40049288</text>
<text transform="scale(0.97758,1)" x="956.46 993.48 1021.88 1050.11 1079.62 1122.65 1134.22 1134.22 1173.67 1199.28 1227.10 1256.57 1273.84 1302.90 1315.68 1342.20 1373.33 1389.75 1389.75 1431.11 1449.14 1475.26 1505.22 1522.54 1551.62 1581.63 1597.37 1597.37 1628.11 1647.30 1665.43 1665.43 1699.02 1724.67 1742.59 1757.92 1788.07 1816.54" y="1683.10" font-size="48.03" fill="#000" stroke="#000" stroke-width="0.6">Genomic coordinate (chr17), &quot;-&quot; strand</text>
<line x1="436" y1="2194.1" x2="2283" y2="2194.1" stroke="#000" stroke-width="3.1"/>
<polyline points="430.80,2181.90 438.20,2194.1 430.80,2206.30" fill="none" stroke="#000" stroke-width="2.9" stroke-linejoin="round" stroke-linecap="square"/>
<polyline points="469.59,2181.90 476.99,2194.1 469.59,2206.30" fill="none" stroke="#000" stroke-width="2.9" stroke-linejoin="round" stroke-linecap="square"/>
<polyline points="508.39,2181.90 515.79,2194.1 508.39,2206.30" fill="none" stroke="#000" stroke-width="2.9" stroke-linejoin="round" stroke-linecap="square"/>
<polyline points="547.18,2181.90 554.58,2194.1 547.18,2206.30" fill="none" stroke="#000" stroke-width="2.9" stroke-linejoin="round" stroke-linecap="square"/>
<polyline points="585.97,2181.90 593.37,2194.1 585.97,2206.30" fill="none" stroke="#000" stroke-width="2.9" stroke-linejoin="round" stroke-linecap="square"/>
<polyline points="624.76,2181.90 632.16,2194.1 624.76,2206.30" fill="none" stroke="#000" stroke-width="2.9" stroke-linejoin="round" stroke-linecap="square"/>
<polyline points="663.56,2181.90 670.96,2194.1 663.56,2206.30" fill="none" stroke="#000" stroke-width="2.9" stroke-linejoin="round" stroke-linecap="square"/>
<polyline points="702.35,2181.90 709.75,2194.1 702.35,2206.30" fill="none" stroke="#000" stroke-width="2.9" stroke-linejoin="round" stroke-linecap="square"/>
<polyline points="741.14,2181.90 748.54,2194.1 741.14,2206.30" fill="none" stroke="#000" stroke-width="2.9" stroke-linejoin="round" stroke-linecap="square"/>
<polyline points="779.94,2181.90 787.34,2194.1 779.94,2206.30" fill="none" stroke="#000" stroke-width="2.9" stroke-linejoin="round" stroke-linecap="square"/>
<polyline points="818.73,2181.90 826.13,2194.1 818.73,2206.30" fill="none" stroke="#000" stroke-width="2.9" stroke-linejoin="round" stroke-linecap="square"/>
<polyline points="857.52,2181.90 864.92,2194.1 857.52,2206.30" fill="none" stroke="#000" stroke-width="2.9" stroke-linejoin="round" stroke-linecap="square"/>
<polyline points="896.32,2181.90 903.72,2194.1 896.32,2206.30" fill="none" stroke="#000" stroke-width="2.9" stroke-linejoin="round" stroke-linecap="square"/>
<polyline points="935.11,2181.90 942.51,2194.1 935.11,2206.30" fill="none" stroke="#000" stroke-width="2.9" stroke-linejoin="round" stroke-linecap="square"/>
<polyline points="973.90,2181.90 981.30,2194.1 973.90,2206.30" fill="none" stroke="#000" stroke-width="2.9" stroke-linejoin="round" stroke-linecap="square"/>
<polyline points="1012.70,2181.90 1020.10,2194.1 1012.70,2206.30" fill="none" stroke="#000" stroke-width="2.9" stroke-linejoin="round" stroke-linecap="square"/>
<polyline points="1051.49,2181.90 1058.89,2194.1 1051.49,2206.30" fill="none" stroke="#000" stroke-width="2.9" stroke-linejoin="round" stroke-linecap="square"/>
<polyline points="1090.28,2181.90 1097.68,2194.1 1090.28,2206.30" fill="none" stroke="#000" stroke-width="2.9" stroke-linejoin="round" stroke-linecap="square"/>
<polyline points="1129.07,2181.90 1136.47,2194.1 1129.07,2206.30" fill="none" stroke="#000" stroke-width="2.9" stroke-linejoin="round" stroke-linecap="square"/>
<polyline points="1167.87,2181.90 1175.27,2194.1 1167.87,2206.30" fill="none" stroke="#000" stroke-width="2.9" stroke-linejoin="round" stroke-linecap="square"/>
<polyline points="1206.66,2181.90 1214.06,2194.1 1206.66,2206.30" fill="none" stroke="#000" stroke-width="2.9" stroke-linejoin="round" stroke-linecap="square"/>
<polyline points="1245.45,2181.90 1252.85,2194.1 1245.45,2206.30" fill="none" stroke="#000" stroke-width="2.9" stroke-linejoin="round" stroke-linecap="square"/>
<polyline points="1284.25,2181.90 1291.65,2194.1 1284.25,2206.30" fill="none" stroke="#000" stroke-width="2.9" stroke-linejoin="round" stroke-linecap="square"/>
<polyline points="1323.04,2181.90 1330.44,2194.1 1323.04,2206.30" fill="none" stroke="#000" stroke-width="2.9" stroke-linejoin="round" stroke-linecap="square"/>
<polyline points="1361.83,2181.90 1369.23,2194.1 1361.83,2206.30" fill="none" stroke="#000" stroke-width="2.9" stroke-linejoin="round" stroke-linecap="square"/>
<polyline points="1400.62,2181.90 1408.02,2194.1 1400.62,2206.30" fill="none" stroke="#000" stroke-width="2.9" stroke-linejoin="round" stroke-linecap="square"/>
<polyline points="1439.42,2181.90 1446.82,2194.1 1439.42,2206.30" fill="none" stroke="#000" stroke-width="2.9" stroke-linejoin="round" stroke-linecap="square"/>
<polyline points="1478.21,2181.90 1485.61,2194.1 1478.21,2206.30" fill="none" stroke="#000" stroke-width="2.9" stroke-linejoin="round" stroke-linecap="square"/>
<polyline points="1517.00,2181.90 1524.40,2194.1 1517.00,2206.30" fill="none" stroke="#000" stroke-width="2.9" stroke-linejoin="round" stroke-linecap="square"/>
<polyline points="1555.80,2181.90 1563.20,2194.1 1555.80,2206.30" fill="none" stroke="#000" stroke-width="2.9" stroke-linejoin="round" stroke-linecap="square"/>
<polyline points="1594.59,2181.90 1601.99,2194.1 1594.59,2206.30" fill="none" stroke="#000" stroke-width="2.9" stroke-linejoin="round" stroke-linecap="square"/>
<polyline points="1633.38,2181.90 1640.78,2194.1 1633.38,2206.30" fill="none" stroke="#000" stroke-width="2.9" stroke-linejoin="round" stroke-linecap="square"/>
<polyline points="1672.18,2181.90 1679.58,2194.1 1672.18,2206.30" fill="none" stroke="#000" stroke-width="2.9" stroke-linejoin="round" stroke-linecap="square"/>
<polyline points="1710.97,2181.90 1718.37,2194.1 1710.97,2206.30" fill="none" stroke="#000" stroke-width="2.9" stroke-linejoin="round" stroke-linecap="square"/>
<polyline points="1749.76,2181.90 1757.16,2194.1 1749.76,2206.30" fill="none" stroke="#000" stroke-width="2.9" stroke-linejoin="round" stroke-linecap="square"/>
<polyline points="1788.55,2181.90 1795.95,2194.1 1788.55,2206.30" fill="none" stroke="#000" stroke-width="2.9" stroke-linejoin="round" stroke-linecap="square"/>
<polyline points="1827.35,2181.90 1834.75,2194.1 1827.35,2206.30" fill="none" stroke="#000" stroke-width="2.9" stroke-linejoin="round" stroke-linecap="square"/>
<polyline points="1866.14,2181.90 1873.54,2194.1 1866.14,2206.30" fill="none" stroke="#000" stroke-width="2.9" stroke-linejoin="round" stroke-linecap="square"/>
<polyline points="1904.93,2181.90 1912.33,2194.1 1904.93,2206.30" fill="none" stroke="#000" stroke-width="2.9" stroke-linejoin="round" stroke-linecap="square"/>
<polyline points="1943.73,2181.90 1951.13,2194.1 1943.73,2206.30" fill="none" stroke="#000" stroke-width="2.9" stroke-linejoin="round" stroke-linecap="square"/>
<polyline points="1982.52,2181.90 1989.92,2194.1 1982.52,2206.30" fill="none" stroke="#000" stroke-width="2.9" stroke-linejoin="round" stroke-linecap="square"/>
<polyline points="2021.31,2181.90 2028.71,2194.1 2021.31,2206.30" fill="none" stroke="#000" stroke-width="2.9" stroke-linejoin="round" stroke-linecap="square"/>
<polyline points="2060.11,2181.90 2067.51,2194.1 2060.11,2206.30" fill="none" stroke="#000" stroke-width="2.9" stroke-linejoin="round" stroke-linecap="square"/>
<polyline points="2098.90,2181.90 2106.30,2194.1 2098.90,2206.30" fill="none" stroke="#000" stroke-width="2.9" stroke-linejoin="round" stroke-linecap="square"/>
<polyline points="2137.69,2181.90 2145.09,2194.1 2137.69,2206.30" fill="none" stroke="#000" stroke-width="2.9" stroke-linejoin="round" stroke-linecap="square"/>
<polyline points="2176.48,2181.90 2183.88,2194.1 2176.48,2206.30" fill="none" stroke="#000" stroke-width="2.9" stroke-linejoin="round" stroke-linecap="square"/>
<polyline points="2215.28,2181.90 2222.68,2194.1 2215.28,2206.30" fill="none" stroke="#000" stroke-width="2.9" stroke-linejoin="round" stroke-linecap="square"/>
<polyline points="2254.07,2181.90 2261.47,2194.1 2254.07,2206.30" fill="none" stroke="#000" stroke-width="2.9" stroke-linejoin="round" stroke-linecap="square"/>
<polyline points="2292.86,2181.90 2300.26,2194.1 2292.86,2206.30" fill="none" stroke="#000" stroke-width="2.9" stroke-linejoin="round" stroke-linecap="square"/>
<polyline points="2331.66,2181.90 2339.06,2194.1 2331.66,2206.30" fill="none" stroke="#000" stroke-width="2.9" stroke-linejoin="round" stroke-linecap="square"/>
<rect x="400" y="2164.30" width="36.30" height="59.6" fill="#000"/>
<rect x="880" y="2164.30" width="12.00" height="59.6" fill="#000"/>
<rect x="2282.6" y="2164.30" width="57.10" height="59.6" fill="#000"/>
<line x1="436" y1="2392.7" x2="2283" y2="2392.7" stroke="#000" stroke-width="3.1"/>
<polyline points="430.80,2380.50 438.20,2392.7 430.80,2404.90" fill="none" stroke="#000" stroke-width="2.9" stroke-linejoin="round" stroke-linecap="square"/>
<polyline points="469.59,2380.50 476.99,2392.7 469.59,2404.90" fill="none" stroke="#000" stroke-width="2.9" stroke-linejoin="round" stroke-linecap="square"/>
<polyline points="508.39,2380.50 515.79,2392.7 508.39,2404.90" fill="none" stroke="#000" stroke-width="2.9" stroke-linejoin="round" stroke-linecap="square"/>
<polyline points="547.18,2380.50 554.58,2392.7 547.18,2404.90" fill="none" stroke="#000" stroke-width="2.9" stroke-linejoin="round" stroke-linecap="square"/>
<polyline points="585.97,2380.50 593.37,2392.7 585.97,2404.90" fill="none" stroke="#000" stroke-width="2.9" stroke-linejoin="round" stroke-linecap="square"/>
<polyline points="624.76,2380.50 632.16,2392.7 624.76,2404.90" fill="none" stroke="#000" stroke-width="2.9" stroke-linejoin="round" stroke-linecap="square"/>
<polyline points="663.56,2380.50 670.96,2392.7 663.56,2404.90" fill="none" stroke="#000" stroke-width="2.9" stroke-linejoin="round" stroke-linecap="square"/>
<polyline points="702.35,2380.50 709.75,2392.7 702.35,2404.90" fill="none" stroke="#000" stroke-width="2.9" stroke-linejoin="round" stroke-linecap="square"/>
<polyline points="741.14,2380.50 748.54,2392.7 741.14,2404.90" fill="none" stroke="#000" stroke-width="2.9" stroke-linejoin="round" stroke-linecap="square"/>
<polyline points="779.94,2380.50 787.34,2392.7 779.94,2404.90" fill="none" stroke="#000" stroke-width="2.9" stroke-linejoin="round" stroke-linecap="square"/>
<polyline points="818.73,2380.50 826.13,2392.7 818.73,2404.90" fill="none" stroke="#000" stroke-width="2.9" stroke-linejoin="round" stroke-linecap="square"/>
<polyline points="857.52,2380.50 864.92,2392.7 857.52,2404.90" fill="none" stroke="#000" stroke-width="2.9" stroke-linejoin="round" stroke-linecap="square"/>
<polyline points="896.32,2380.50 903.72,2392.7 896.32,2404.90" fill="none" stroke="#000" stroke-width="2.9" stroke-linejoin="round" stroke-linecap="square"/>
<polyline points="935.11,2380.50 942.51,2392.7 935.11,2404.90" fill="none" stroke="#000" stroke-width="2.9" stroke-linejoin="round" stroke-linecap="square"/>
<polyline points="973.90,2380.50 981.30,2392.7 973.90,2404.90" fill="none" stroke="#000" stroke-width="2.9" stroke-linejoin="round" stroke-linecap="square"/>
<polyline points="1012.70,2380.50 1020.10,2392.7 1012.70,2404.90" fill="none" stroke="#000" stroke-width="2.9" stroke-linejoin="round" stroke-linecap="square"/>
<polyline points="1051.49,2380.50 1058.89,2392.7 1051.49,2404.90" fill="none" stroke="#000" stroke-width="2.9" stroke-linejoin="round" stroke-linecap="square"/>
<polyline points="1090.28,2380.50 1097.68,2392.7 1090.28,2404.90" fill="none" stroke="#000" stroke-width="2.9" stroke-linejoin="round" stroke-linecap="square"/>
<polyline points="1129.07,2380.50 1136.47,2392.7 1129.07,2404.90" fill="none" stroke="#000" stroke-width="2.9" stroke-linejoin="round" stroke-linecap="square"/>
<polyline points="1167.87,2380.50 1175.27,2392.7 1167.87,2404.90" fill="none" stroke="#000" stroke-width="2.9" stroke-linejoin="round" stroke-linecap="square"/>
<polyline points="1206.66,2380.50 1214.06,2392.7 1206.66,2404.90" fill="none" stroke="#000" stroke-width="2.9" stroke-linejoin="round" stroke-linecap="square"/>
<polyline points="1245.45,2380.50 1252.85,2392.7 1245.45,2404.90" fill="none" stroke="#000" stroke-width="2.9" stroke-linejoin="round" stroke-linecap="square"/>
<polyline points="1284.25,2380.50 1291.65,2392.7 1284.25,2404.90" fill="none" stroke="#000" stroke-width="2.9" stroke-linejoin="round" stroke-linecap="square"/>
<polyline points="1323.04,2380.50 1330.44,2392.7 1323.04,2404.90" fill="none" stroke="#000" stroke-width="2.9" stroke-linejoin="round" stroke-linecap="square"/>
<polyline points="1361.83,2380.50 1369.23,2392.7 1361.83,2404.90" fill="none" stroke="#000" stroke-width="2.9" stroke-linejoin="round" stroke-linecap="square"/>
<polyline points="1400.62,2380.50 1408.02,2392.7 1400.62,2404.90" fill="none" stroke="#000" stroke-width="2.9" stroke-linejoin="round" stroke-linecap="square"/>
<polyline points="1439.42,2380.50 1446.82,2392.7 1439.42,2404.90" fill="none" stroke="#000" stroke-width="2.9" stroke-linejoin="round" stroke-linecap="square"/>
<polyline points="1478.21,2380.50 1485.61,2392.7 1478.21,2404.90" fill="none" stroke="#000" stroke-width="2.9" stroke-linejoin="round" stroke-linecap="square"/>
<polyline points="1517.00,2380.50 1524.40,2392.7 1517.00,2404.90" fill="none" stroke="#000" stroke-width="2.9" stroke-linejoin="round" stroke-linecap="square"/>
<polyline points="1555.80,2380.50 1563.20,2392.7 1555.80,2404.90" fill="none" stroke="#000" stroke-width="2.9" stroke-linejoin="round" stroke-linecap="square"/>
<polyline points="1594.59,2380.50 1601.99,2392.7 1594.59,2404.90" fill="none" stroke="#000" stroke-width="2.9" stroke-linejoin="round" stroke-linecap="square"/>
<polyline points="1633.38,2380.50 1640.78,2392.7 1633.38,2404.90" fill="none" stroke="#000" stroke-width="2.9" stroke-linejoin="round" stroke-linecap="square"/>
<polyline points="1672.18,2380.50 1679.58,2392.7 1672.18,2404.90" fill="none" stroke="#000" stroke-width="2.9" stroke-linejoin="round" stroke-linecap="square"/>
<polyline points="1710.97,2380.50 1718.37,2392.7 1710.97,2404.90" fill="none" stroke="#000" stroke-width="2.9" stroke-linejoin="round" stroke-linecap="square"/>
<polyline points="1749.76,2380.50 1757.16,2392.7 1749.76,2404.90" fill="none" stroke="#000" stroke-width="2.9" stroke-linejoin="round" stroke-linecap="square"/>
<polyline points="1788.55,2380.50 1795.95,2392.7 1788.55,2404.90" fill="none" stroke="#000" stroke-width="2.9" stroke-linejoin="round" stroke-linecap="square"/>
<polyline points="1827.35,2380.50 1834.75,2392.7 1827.35,2404.90" fill="none" stroke="#000" stroke-width="2.9" stroke-linejoin="round" stroke-linecap="square"/>
<polyline points="1866.14,2380.50 1873.54,2392.7 1866.14,2404.90" fill="none" stroke="#000" stroke-width="2.9" stroke-linejoin="round" stroke-linecap="square"/>
<polyline points="1904.93,2380.50 1912.33,2392.7 1904.93,2404.90" fill="none" stroke="#000" stroke-width="2.9" stroke-linejoin="round" stroke-linecap="square"/>
<polyline points="1943.73,2380.50 1951.13,2392.7 1943.73,2404.90" fill="none" stroke="#000" stroke-width="2.9" stroke-linejoin="round" stroke-linecap="square"/>
<polyline points="1982.52,2380.50 1989.92,2392.7 1982.52,2404.90" fill="none" stroke="#000" stroke-width="2.9" stroke-linejoin="round" stroke-linecap="square"/>
<polyline points="2021.31,2380.50 2028.71,2392.7 2021.31,2404.90" fill="none" stroke="#000" stroke-width="2.9" stroke-linejoin="round" stroke-linecap="square"/>
<polyline points="2060.11,2380.50 2067.51,2392.7 2060.11,2404.90" fill="none" stroke="#000" stroke-width="2.9" stroke-linejoin="round" stroke-linecap="square"/>
<polyline points="2098.90,2380.50 2106.30,2392.7 2098.90,2404.90" fill="none" stroke="#000" stroke-width="2.9" stroke-linejoin="round" stroke-linecap="square"/>
<polyline points="2137.69,2380.50 2145.09,2392.7 2137.69,2404.90" fill="none" stroke="#000" stroke-width="2.9" stroke-linejoin="round" stroke-linecap="square"/>
<polyline points="2176.48,2380.50 2183.88,2392.7 2176.48,2404.90" fill="none" stroke="#000" stroke-width="2.9" stroke-linejoin="round" stroke-linecap="square"/>
<polyline points="2215.28,2380.50 2222.68,2392.7 2215.28,2404.90" fill="none" stroke="#000" stroke-width="2.9" stroke-linejoin="round" stroke-linecap="square"/>
<polyline points="2254.07,2380.50 2261.47,2392.7 2254.07,2404.90" fill="none" stroke="#000" stroke-width="2.9" stroke-linejoin="round" stroke-linecap="square"/>
<polyline points="2292.86,2380.50 2300.26,2392.7 2292.86,2404.90" fill="none" stroke="#000" stroke-width="2.9" stroke-linejoin="round" stroke-linecap="square"/>
<polyline points="2331.66,2380.50 2339.06,2392.7 2331.66,2404.90" fill="none" stroke="#000" stroke-width="2.9" stroke-linejoin="round" stroke-linecap="square"/>
<rect x="400" y="2362.90" width="36.30" height="59.6" fill="#000"/>
<rect x="2282.6" y="2362.90" width="57.10" height="59.6" fill="#000"/>
</g>
</svg>
</body></html>
